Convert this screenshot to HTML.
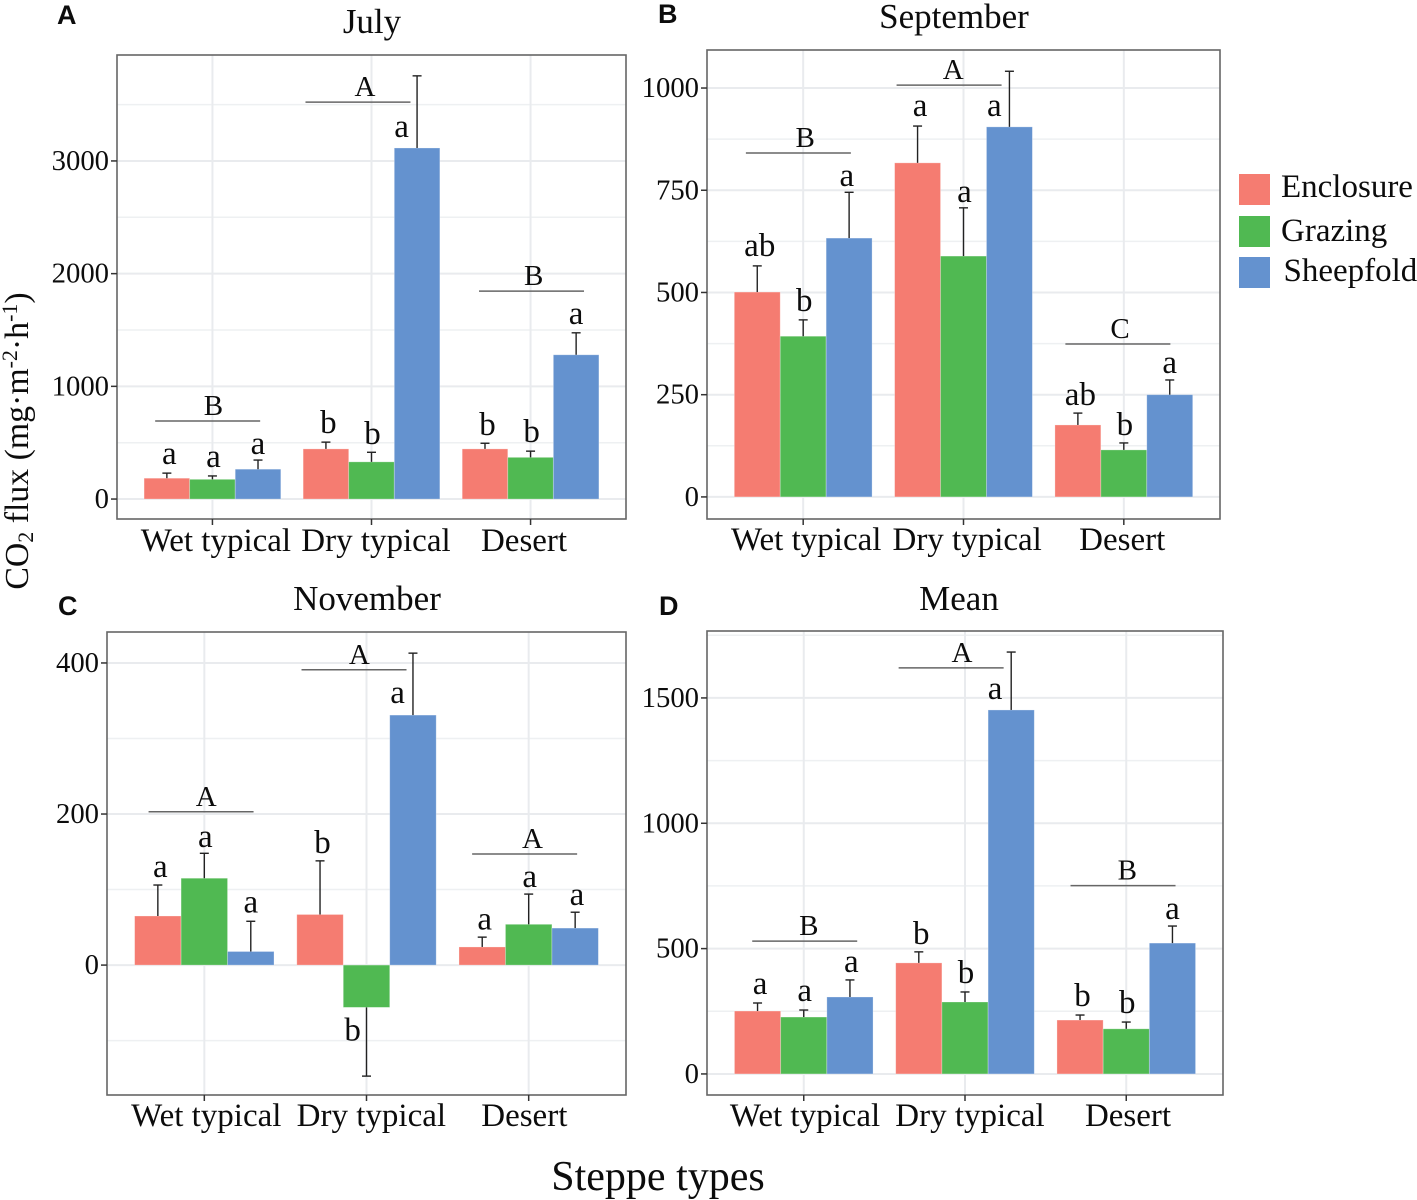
<!DOCTYPE html>
<html lang="en">
<head>
<meta charset="utf-8">
<title>CO2 flux by steppe type</title>
<style>
html,body{margin:0;padding:0;background:#fff;}
svg{display:block;}
text{font-family:"Liberation Serif",serif;fill:#0c0c0c;}
</style>
</head>
<body>
<svg id="chart" xmlns="http://www.w3.org/2000/svg" width="1417" height="1200" viewBox="0 0 1417 1200"></svg>
<script>
const categories = ["Wet typical", "Dry typical", "Desert"];
const seriesNames = ["Enclosure", "Grazing", "Sheepfold"];
const seriesColors = ["#f57c71", "#50b952", "#6492cf"];

const julyEnclosure = [185, 445, 445];
const julyGrazing = [175, 330, 370];
const julySheepfold = [265, 3115, 1280];
const julyErrEnclosure = [45, 60, 50];
const julyErrGrazing = [30, 85, 55];
const julyErrSheepfold = [81, 640, 195];
const julyTicks = [0, 1000, 2000, 3000];
const julyLetters = ["a","a","a","b","b","a","b","b","a"];
const julyLetterAt = [302,275,390,577,479,3203,559,497,1544];
const julyLetterShift = [0,0,0,0,0,-0.34,0,0,0];
const julyGroupLetters = ["B","A","B"];
const julyGroupAt = [692,3522,1845];
const julyGroupCenter = [-0.03,0.915,2.006];
const julyGroupLetterCenter = [0,0.953,2.013];
const julyLabelAt = [0.022,1.028,1.959];

const septEnclosure = [501, 817, 176];
const septGrazing = [393, 589, 115];
const septSheepfold = [633, 905, 250];
const septErrEnclosure = [64, 90, 29];
const septErrGrazing = [40, 118, 17];
const septErrSheepfold = [112, 136, 36];
const septTicks = [0, 250, 500, 750, 1000];
const septLetters = ["ab","b","a","a","a","a","ab","b","a"];
const septLetterAt = [587,452,758,929,719,929,222,149,301];
const septLetterShift = [0,0,-0.05,0,0,-0.33,0,0,0];
const septGroupLetters = ["B","A","C"];
const septGroupAt = [841,1007,374];
const septGroupCenter = [-0.03,0.91,1.963];
const septGroupLetterCenter = [0.006,0.93,1.97];
const septLabelAt = [0.019,1.023,1.99];

const novEnclosure = [65, 67, 24];
const novGrazing = [115, -56, 54];
const novSheepfold = [18, 331, 49];
const novErrEnclosure = [41, 71, 13];
const novErrGrazing = [33, 91, 40];
const novErrSheepfold = [40, 82, 21];
const novTicks = [0, 200, 400];
const novLetters = ["a","a","a","b","b","a","a","a","a"];
const novLetterAt = [115,155,68,147,-101,346,46,102,78];
const novLetterShift = [0,0,0,0,-0.32,-0.33,0,0,0.04];
const novGroupLetters = ["A","A","A"];
const novGroupAt = [203,391,147];
const novGroupCenter = [-0.02,0.923,1.975];
const novGroupLetterCenter = [0.006,0.95,2.017];
const novLabelAt = [0.012,1.03,1.973];

const meanEnclosure = [251, 443, 215];
const meanGrazing = [227, 287, 180];
const meanSheepfold = [307, 1452, 522];
const meanErrEnclosure = [32, 44, 20];
const meanErrGrazing = [28, 40, 27];
const meanErrSheepfold = [68, 231, 68];
const meanTicks = [0, 500, 1000, 1500];
const meanLetters = ["a","a","a","b","b","a","b","b","a"];
const meanLetterAt = [315,287,403,515,359,1492,267,239,614];
const meanLetterShift = [0,0,0.03,0,0,-0.35,0,0,0];
const meanGroupLetters = ["B","A","B"];
const meanGroupAt = [530,1620,751];
const meanGroupCenter = [0.006,0.914,1.98];
const meanGroupLetterCenter = [0.025,0.975,2.0];
const meanLabelAt = [0.008,1.031,2.011];

const panels = [
  {key:"july", title:"July", tag:"A", box:[117,55,626,519], dom:[-177,3940], titleX:372, titleY:33, tagX:57, tagY:24, labelY:551,
   series:[julyEnclosure,julyGrazing,julySheepfold], errs:[julyErrEnclosure,julyErrGrazing,julyErrSheepfold], ticks:julyTicks,
   letters:julyLetters, letterAt:julyLetterAt, letterShift:julyLetterShift, groupLetters:julyGroupLetters, groupAt:julyGroupAt, groupCenter:julyGroupCenter, groupLetterCenter:julyGroupLetterCenter, labelAt:julyLabelAt},
  {key:"september", title:"September", tag:"B", box:[707,50,1220,519], dom:[-54,1093], titleX:954, titleY:28, tagX:658, tagY:23, labelY:550,
   series:[septEnclosure,septGrazing,septSheepfold], errs:[septErrEnclosure,septErrGrazing,septErrSheepfold], ticks:septTicks,
   letters:septLetters, letterAt:septLetterAt, letterShift:septLetterShift, groupLetters:septGroupLetters, groupAt:septGroupAt, groupCenter:septGroupCenter, groupLetterCenter:septGroupLetterCenter, labelAt:septLabelAt},
  {key:"november", title:"November", tag:"C", box:[107,632,626,1095], dom:[-172,441], titleX:367, titleY:610, tagX:58, tagY:615, labelY:1126,
   series:[novEnclosure,novGrazing,novSheepfold], errs:[novErrEnclosure,novErrGrazing,novErrSheepfold], ticks:novTicks,
   letters:novLetters, letterAt:novLetterAt, letterShift:novLetterShift, groupLetters:novGroupLetters, groupAt:novGroupAt, groupCenter:novGroupCenter, groupLetterCenter:novGroupLetterCenter, labelAt:novLabelAt},
  {key:"mean", title:"Mean", tag:"D", box:[707,631,1223,1095], dom:[-84,1767], titleX:959, titleY:610, tagX:659, tagY:615, labelY:1126,
   series:[meanEnclosure,meanGrazing,meanSheepfold], errs:[meanErrEnclosure,meanErrGrazing,meanErrSheepfold], ticks:meanTicks,
   letters:meanLetters, letterAt:meanLetterAt, letterShift:meanLetterShift, groupLetters:meanGroupLetters, groupAt:meanGroupAt, groupCenter:meanGroupCenter, groupLetterCenter:meanGroupLetterCenter, labelAt:meanLabelAt}
];

const NS = "http://www.w3.org/2000/svg";
const root = document.getElementById("chart");

function make(tag, attrs, parent, text) {
  const node = document.createElementNS(NS, tag);
  for (const k in attrs) node.setAttribute(k, attrs[k]);
  if (text !== undefined) node.textContent = text;
  (parent || root).appendChild(node);
  return node;
}

panels.forEach(function (p) {
  const left = p.box[0], top = p.box[1], right = p.box[2], bottom = p.box[3];
  const step = (right - left) / 3.2;
  const barW = step * 0.2865;
  const xCat = function (c) { return left + (c + 0.6) * step; };
  const yVal = function (v) { return top + (p.dom[1] - v) / (p.dom[1] - p.dom[0]) * (bottom - top); };

  const g = make("g", {});
  
  

  const bg = make("rect", {x:left, y:top, width:right-left, height:bottom-top, fill:"#fff"}, g);
  
  

  const tickStep = p.ticks[1] - p.ticks[0];
  for (let m = p.ticks[0] - tickStep / 2; m < p.dom[1]; m += tickStep) {
    if (m < p.dom[0]) continue;
    const minor = make("line", {x1:left, x2:right, y1:yVal(m), y2:yVal(m), stroke:"#eef0f2", "stroke-width":1.5}, g);
    
    
  }
  p.ticks.forEach(function (t) {
    const major = make("line", {x1:left, x2:right, y1:yVal(t), y2:yVal(t), stroke:"#e9ebee", "stroke-width":2}, g);
    
    
  });
  categories.forEach(function (c, i) {
    const vg = make("line", {x1:xCat(i), x2:xCat(i), y1:top, y2:bottom, stroke:"#e9ebee", "stroke-width":2}, g);
    
    
  });

  p.series.forEach(function (vals, s) {
    vals.forEach(function (v, c) {
      const bx = xCat(c) + (s - 1.5) * barW;
      const y0 = yVal(0), y1 = yVal(v);
      const bar = make("rect", {x:bx, y:Math.min(y0, y1), width:barW, height:Math.abs(y1 - y0), fill:seriesColors[s], stroke:"rgba(255,255,255,0.35)", "stroke-width":0.8}, g);
      
      
    });
  });

  p.series.forEach(function (vals, s) {
    vals.forEach(function (v, c) {
      const cx = xCat(c) + (s - 1) * barW;
      const end = v < 0 ? v - p.errs[s][c] : v + p.errs[s][c];
      const stem = make("line", {x1:cx, x2:cx, y1:yVal(v), y2:yVal(end), stroke:"#222", "stroke-width":1.4}, g);
      
      
      const cap = make("line", {x1:cx-4.5, x2:cx+4.5, y1:yVal(end), y2:yVal(end), stroke:"#222", "stroke-width":1.4}, g);
      
      
    });
  });

  const border = make("rect", {x:left, y:top, width:right-left, height:bottom-top, fill:"none", stroke:"#666", "stroke-width":1.6}, g);
  
  

  p.ticks.forEach(function (t) {
    const tm = make("line", {x1:left-6, x2:left, y1:yVal(t), y2:yVal(t), stroke:"#333", "stroke-width":1.5}, g);
    
    
    const tl = make("text", {x:left-8, y:yVal(t)+9, "text-anchor":"end", "font-size":28.7}, g, String(t));
    
    
  });

  categories.forEach(function (c, i) {
    const tm = make("line", {x1:xCat(i), x2:xCat(i), y1:bottom, y2:bottom+6, stroke:"#333", "stroke-width":1.5}, g);
    
    
    const tl = make("text", {x:xCat(p.labelAt[i]), y:p.labelY, "text-anchor":"middle", "font-size":33}, g, c);
    
    
  });

  const letterNudge = [2.5, 1, 0];
  p.letters.forEach(function (l, n) {
    const c = Math.floor(n / 3), s = n % 3;
    const lx = xCat(c) + (s - 1 + p.letterShift[n]) * barW + letterNudge[s];
    const t = make("text", {x:lx, y:yVal(p.letterAt[n]) - 1, "text-anchor":"middle", "font-size":33}, g, l);
    
    
  });

  p.groupLetters.forEach(function (l, i) {
    const cx = xCat(p.groupCenter[i]), y = yVal(p.groupAt[i]);
    const line = make("line", {x1:cx-52.5, x2:cx+52.5, y1:y, y2:y, stroke:"#666", "stroke-width":1.5}, g);
    
    
    const t = make("text", {x:xCat(p.groupLetterCenter[i]) + 1, y:y-6, "text-anchor":"middle", "font-size":29}, g, l);
    
    
  });

  const title = make("text", {x:p.titleX, y:p.titleY, "text-anchor":"middle", "font-size":35}, g, p.title);
  
  

  const tag = make("text", {x:p.tagX, y:p.tagY, "font-size":27, "font-weight":"bold", style:'font-family:"Liberation Sans",sans-serif'}, g, p.tag);
  
  
});

const legend = make("g", {});


const legendTop = 174;
const legendGap = 41.5;
seriesNames.forEach(function (name, i) {
  const sy = legendTop + i * legendGap + (i === 1 ? 0.5 : 0);
  const sw = make("rect", {x:1239, y:sy, width:31, height:31, fill:seriesColors[i]}, legend);
  
  
  const lb = make("text", {x: i === 2 ? 1283.5 : 1281, y: sy + (i === 0 ? 23 : 25 - (i === 2 ? 1 : 0)), "font-size":33}, legend, name);
  
  
});

const xTitle = make("text", {x:658, y:1190, "text-anchor":"middle", "font-size":42}, root, "Steppe types");



const yTitle = make("text", {transform:"translate(28,441) rotate(-90)", "text-anchor":"middle", "font-size":33.8});


make("tspan", {}, yTitle, "CO");
make("tspan", {dy:5, "font-size":22}, yTitle, "2");
make("tspan", {dy:-5}, yTitle, " flux (mg·m");
make("tspan", {dy:-11, "font-size":22}, yTitle, "-2");
make("tspan", {dy:11}, yTitle, "·h");
make("tspan", {dy:-11, "font-size":22}, yTitle, "-1");
make("tspan", {dy:11}, yTitle, ")");
</script>
</body>
</html>
